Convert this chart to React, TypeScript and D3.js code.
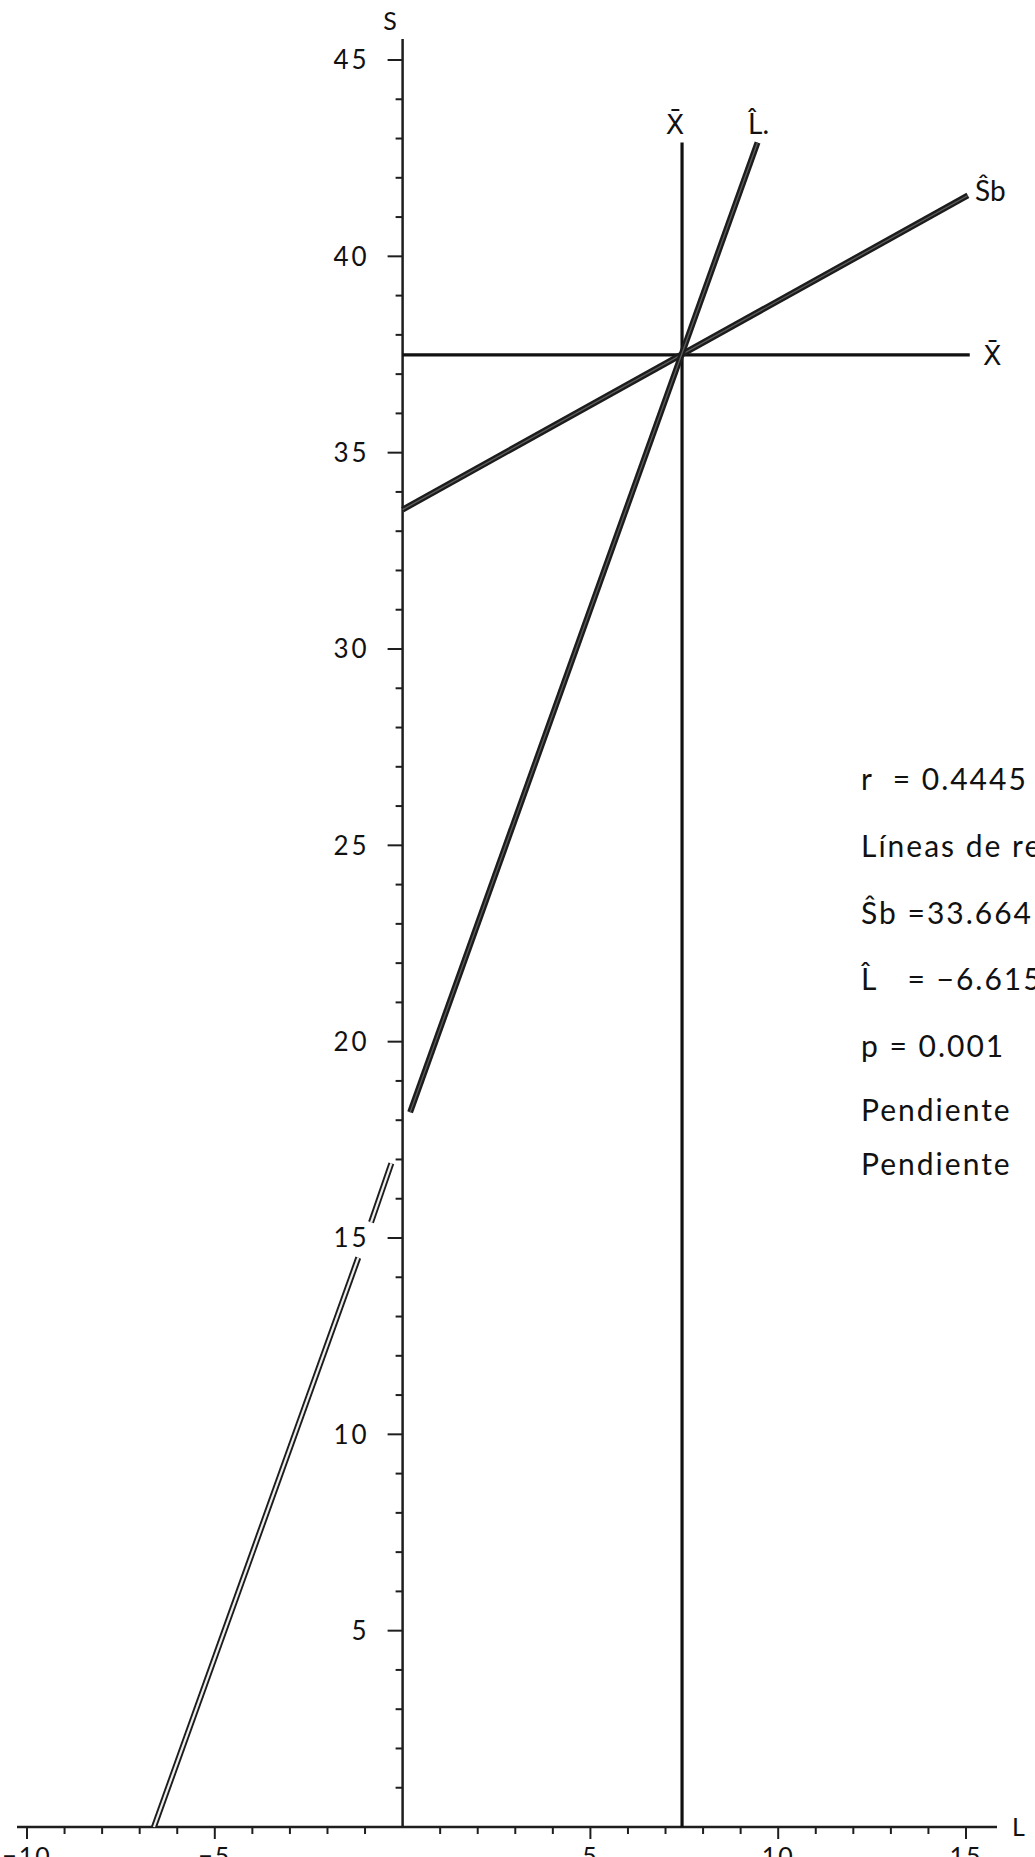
import React from "react";
import * as d3 from "d3";

// axis labels
const xTickLabels = [-10, -5, 5, 10, 15];
const yTickLabels = [5, 10, 15, 20, 25, 30, 35, 40, 45];

// means (crossing point of the two regression lines)
const meanL = 7.44;
const meanS = 37.49;

// Sb line, end points
const sbLine = [
  { L: 0, S: 33.55 },
  { L: 15.05, S: 41.55 },
];

// L line, drawn in three pieces
const lHatPieces = [
  [
    { L: -6.62, S: 0 },
    { L: -1.18, S: 14.5 },
  ],
  [
    { L: -0.84, S: 15.4 },
    { L: -0.3, S: 16.9 },
  ],
  [
    { L: 0.2, S: 18.2 },
    { L: 9.45, S: 42.9 },
  ],
];

const statLines = [
  "r  = 0.4445",
  "Líneas de regresión",
  "Ŝb =33.664 + 0.536 L",
  "L̂   = −6.615 + 0.375 S",
  "p = 0.001",
  "Pendiente",
  "Pendiente",
];
const statRows = [779, 846, 913, 979, 1046, 1110, 1164];

const W = 1035;
const H = 1857;
const font = "Lato, 'DejaVu Sans', sans-serif";

const App = () => {
  const xScale = d3.scaleLinear().domain([-10, 15]).range([27, 966]);
  const yScale = d3.scaleLinear().domain([0, 45]).range([1827, 60]);
  const x0 = xScale(0);
  const y0 = yScale(0);

  const line = d3
    .line<{ L: number; S: number }>()
    .x((d) => xScale(d.L))
    .y((d) => yScale(d.S));

  // one tick per unit
  const xMinor = xScale.ticks(25).filter((v) => v !== 0);
  const yMinor = yScale.ticks(45).filter((v) => v !== 0);

  return (
    <svg
      width={W}
      height={H}
      style={{ position: "absolute", left: 0, top: 0, background: "#fff" }}
      fontFamily={font}
    >
      <rect width={W} height={H} fill="#fff" />

      {/* y axis */}
      <line x1={x0} x2={x0} y1={39} y2={y0} stroke="#1e1e1e" strokeWidth={2.5} />
      {yMinor.map((v) => (
        <line
          key={"yt" + v}
          x1={x0}
          x2={x0 - (v % 5 === 0 ? 15 : 7)}
          y1={yScale(v)}
          y2={yScale(v)}
          stroke="#1e1e1e"
          strokeWidth={2}
        />
      ))}
      {yTickLabels.map((v) => (
        <text
          key={"yl" + v}
          x={x0 - 33}
          y={yScale(v)}
          dy="0.36em"
          textAnchor="end"
          fontSize={26}
          letterSpacing={3}
          fill="#111"
        >
          {v}
        </text>
      ))}
      <text x={390} y={30} textAnchor="middle" fontSize={25} fill="#111">
        S
      </text>

      {/* x axis */}
      <line x1={17} x2={997} y1={y0} y2={y0} stroke="#1e1e1e" strokeWidth={2.5} />
      {xMinor.map((v) => (
        <line
          key={"xt" + v}
          x1={xScale(v)}
          x2={xScale(v)}
          y1={y0}
          y2={y0 + (v % 5 === 0 ? 12 : 7)}
          stroke="#1e1e1e"
          strokeWidth={2}
        />
      ))}
      {xTickLabels.map((v) => (
        <text
          key={"xl" + v}
          x={xScale(v)}
          y={y0 + 38}
          textAnchor="middle"
          fontSize={25}
          letterSpacing={2}
          fill="#111"
        >
          {v < 0 ? "−" + Math.abs(v) : v}
        </text>
      ))}
      <text x={1012} y={y0 + 9} fontSize={25} fill="#111">
        L
      </text>

      {/* mean lines */}
      <line
        x1={xScale(meanL)}
        x2={xScale(meanL)}
        y1={yScale(42.9)}
        y2={y0}
        stroke="#111"
        strokeWidth={3.2}
      />
      <line
        x1={x0}
        x2={xScale(15.1)}
        y1={yScale(meanS)}
        y2={yScale(meanS)}
        stroke="#111"
        strokeWidth={3.2}
      />
      <text
        x={xScale(meanL) - 7}
        y={134}
        textAnchor="middle"
        fontSize={27}
        fontFamily="'DejaVu Sans', sans-serif"
        fill="#111"
      >
        X̄
      </text>
      <text
        x={983}
        y={yScale(meanS) + 10}
        fontSize={27}
        fontFamily="'DejaVu Sans', sans-serif"
        fill="#111"
      >
        X̄
      </text>

      {/* regression lines */}
      <path d={line(sbLine) || ""} fill="none" stroke="#1c1c1c" strokeWidth={6} />
      <path d={line(sbLine) || ""} fill="none" stroke="#5e5e5e" strokeWidth={1.3} />
      {lHatPieces.map((p, i) => (
        <g key={"lp" + i}>
          <path d={line(p) || ""} fill="none" stroke="#1c1c1c" strokeWidth={6} />
          <path
            d={line(p) || ""}
            fill="none"
            stroke={i < 2 ? "#eee" : "#5e5e5e"}
            strokeWidth={i < 2 ? 2.2 : 1.3}
          />
        </g>
      ))}
      <text x={748} y={134} fontSize={28} fill="#111">
        L̂.
      </text>
      <text x={975} y={201} fontSize={28} fill="#111">
        Ŝb
      </text>

      {/* statistics block, runs off the right edge */}
      {statLines.map((s, i) => (
        <text
          key={"st" + i}
          x={861}
          y={statRows[i]}
          dy="0.36em"
          fontSize={30}
          letterSpacing={2}
          fill="#111"
          style={{ whiteSpace: "pre" }}
        >
          {s}
        </text>
      ))}
    </svg>
  );
};

export default App;
